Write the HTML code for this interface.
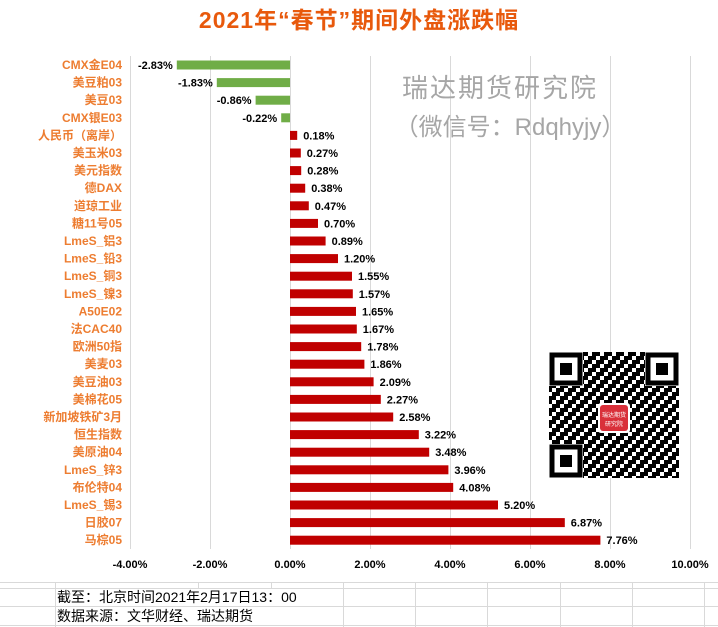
<!DOCTYPE html>
<html><head><meta charset="utf-8"><style>
body{margin:0;background:#fff;}
svg{display:block;font-family:"Liberation Sans","Noto Sans CJK SC",sans-serif;}
.l{fill:#ed7d31;font-weight:bold;font-size:12px;text-anchor:end;}
.v{fill:#000;font-weight:bold;font-size:11px;}
.t{fill:#000;font-weight:bold;font-size:11px;text-anchor:middle;}
</style></head><body>
<svg width="718" height="627" viewBox="0 0 718 627">
<defs>
<pattern id="qr" width="12" height="12" patternUnits="userSpaceOnUse">
<rect width="12" height="12" fill="#fff"/>
<rect x="0" y="0" width="4" height="4" fill="#000"/><rect x="8" y="0" width="4" height="8" fill="#000"/>
<rect x="4" y="4" width="4" height="4" fill="#000"/><rect x="0" y="8" width="8" height="4" fill="#000"/>
</pattern>
</defs>
<text x="359" y="28" text-anchor="middle" font-size="23" font-weight="bold" fill="#e8590c" letter-spacing="1">2021年“春节”期间外盘涨跌幅</text>
<g stroke="#d9d9d9" stroke-width="1">
<line x1="130.5" y1="56" x2="130.5" y2="549"/><line x1="210.5" y1="56" x2="210.5" y2="549"/>
<line x1="290.5" y1="56" x2="290.5" y2="549"/><line x1="370.5" y1="56" x2="370.5" y2="549"/>
<line x1="450.5" y1="56" x2="450.5" y2="549"/><line x1="530.5" y1="56" x2="530.5" y2="549"/>
<line x1="610.5" y1="56" x2="610.5" y2="549"/><line x1="690.5" y1="56" x2="690.5" y2="549"/>
</g>
<text x="500" y="97" text-anchor="middle" font-size="26" fill="#a6a6a6" letter-spacing="2">瑞达期货研究院</text>
<text x="510" y="135" text-anchor="middle" font-size="24" fill="#a6a6a6">（微信号：Rdqhyjy）</text>
<g id="bars"></g>
<rect x="549" y="352" width="130" height="126" fill="url(#qr)"/>
<g fill="#fff"><rect x="549" y="352" width="34" height="34"/><rect x="645" y="352" width="34" height="34"/><rect x="549" y="444" width="34" height="34"/></g>
<g fill="none" stroke="#000" stroke-width="5"><rect x="552" y="355" width="28" height="28"/><rect x="648" y="355" width="28" height="28"/><rect x="552" y="447" width="28" height="28"/></g>
<g fill="#000"><rect x="560" y="363" width="12" height="12"/><rect x="656" y="363" width="12" height="12"/><rect x="560" y="455" width="12" height="12"/></g>
<rect x="598" y="403" width="32" height="30" rx="3" fill="#fff"/>
<rect x="600" y="405" width="28" height="26" rx="3" fill="#d9303a"/>
<text x="614" y="417" font-size="6" fill="#fff" text-anchor="middle">瑞达期货</text>
<text x="614" y="426" font-size="6" fill="#fff" text-anchor="middle">研究院</text>
<g class="t">
<text x="130" y="568">-4.00%</text><text x="210" y="568">-2.00%</text><text x="290" y="568">0.00%</text>
<text x="370" y="568">2.00%</text><text x="450" y="568">4.00%</text><text x="530" y="568">6.00%</text>
<text x="610" y="568">8.00%</text><text x="690" y="568">10.00%</text>
</g>
<g stroke="#d9d9d9" stroke-width="1">
<line x1="0" y1="582.5" x2="718" y2="582.5"/><line x1="0" y1="588.5" x2="718" y2="588.5"/>
<line x1="0" y1="606.5" x2="718" y2="606.5"/><line x1="0" y1="625.5" x2="718" y2="625.5"/>
<line x1="55.5" y1="582" x2="55.5" y2="627"/><line x1="198.5" y1="582" x2="198.5" y2="588"/>
<line x1="271.5" y1="582" x2="271.5" y2="588"/><line x1="343.5" y1="582" x2="343.5" y2="627"/>
<line x1="415.5" y1="582" x2="415.5" y2="627"/><line x1="487.5" y1="582" x2="487.5" y2="627"/>
<line x1="560.5" y1="582" x2="560.5" y2="627"/><line x1="632.5" y1="582" x2="632.5" y2="627"/>
<line x1="704.5" y1="582" x2="704.5" y2="627"/>
</g>
<text x="57" y="602" font-size="14" fill="#000">截至：北京时间2021年2月17日13：00</text>
<text x="57" y="621" font-size="14" fill="#000">数据来源：文华财经、瑞达期货</text>
</svg>
<script>
var d=[["CMX金E04",-2.83],["美豆粕03",-1.83],["美豆03",-0.86],["CMX银E03",-0.22],["人民币（离岸）",0.18],["美玉米03",0.27],["美元指数",0.28],["德DAX",0.38],["道琼工业",0.47],["糖11号05",0.70],["LmeS_铝3",0.89],["LmeS_铅3",1.20],["LmeS_铜3",1.55],["LmeS_镍3",1.57],["A50E02",1.65],["法CAC40",1.67],["欧洲50指",1.78],["美麦03",1.86],["美豆油03",2.09],["美棉花05",2.27],["新加坡铁矿3月",2.58],["恒生指数",3.22],["美原油04",3.48],["LmeS_锌3",3.96],["布伦特04",4.08],["LmeS_锡3",5.20],["日胶07",6.87],["马棕05",7.76]];
var g=document.getElementById('bars'),s='';
d.forEach(function(r,i){var y=65+i*17.6,v=r[1],w=Math.abs(v)*40,x=v<0?290-w:290,c=v<0?'#70ad47':'#c00000';
s+='<rect x="'+x.toFixed(1)+'" y="'+(y-4.5).toFixed(1)+'" width="'+w.toFixed(1)+'" height="9" fill="'+c+'"/>';
s+='<text class="l" x="122" y="'+(y+4).toFixed(1)+'">'+r[0]+'</text>';
var t=v.toFixed(2)+'%';
if(v<0)s+='<text class="v" x="'+(x-4).toFixed(1)+'" y="'+(y+4).toFixed(1)+'" text-anchor="end">'+t+'</text>';
else s+='<text class="v" x="'+(x+w+6).toFixed(1)+'" y="'+(y+4).toFixed(1)+'">'+t+'</text>';});
g.innerHTML=s;
</script>
</body></html>
